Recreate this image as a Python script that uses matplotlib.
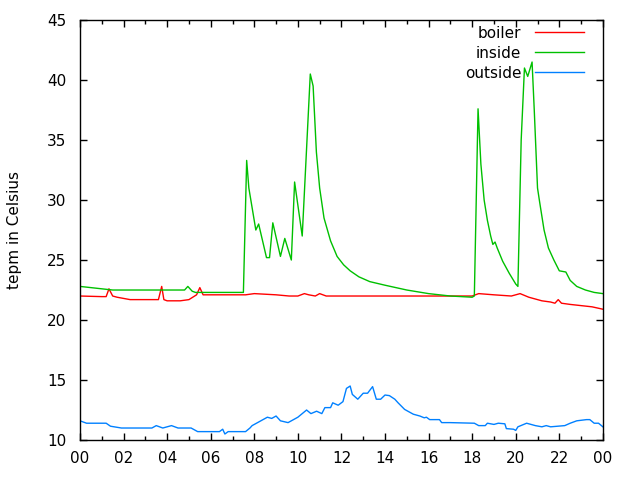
import numpy as np
import matplotlib
matplotlib.use("Agg")
import matplotlib.pyplot as plt
from matplotlib.ticker import MultipleLocator, FuncFormatter

# --- data (hours since midnight, degrees C) ---
boiler_t = [0, 1.0, 1.2, 1.33, 1.5, 1.7, 2.3, 3.6, 3.75, 3.85, 4.0, 4.6, 5.0, 5.35, 5.5, 5.65,
            6.0, 7.0, 7.6, 8.0, 9.0, 9.6, 10.0, 10.3, 10.5, 10.8, 11.0, 11.3, 12.0, 13.0,
            15.0, 17.0, 18.0, 18.3, 19.0, 19.8, 20.2, 20.6, 21.2, 21.6, 21.8, 21.95, 22.1,
            22.5, 23.0, 23.5, 24.0]
boiler = [22.0, 21.95, 21.95, 22.6, 22.0, 21.9, 21.7, 21.7, 22.8, 21.7, 21.6, 21.6, 21.7, 22.1,
          22.7, 22.1, 22.1, 22.1, 22.1, 22.2, 22.1, 22.0, 22.0, 22.2, 22.1, 22.0, 22.2, 22.0,
          22.0, 22.0, 22.0, 22.0, 22.0, 22.2, 22.1, 22.0, 22.2, 21.9, 21.6, 21.5, 21.4, 21.7,
          21.4, 21.3, 21.2, 21.1, 20.9]

inside_t = [0, 1.0, 1.5, 4.5, 4.8, 4.95, 5.15, 5.3, 7.4, 7.5, 7.65, 7.75, 8.07, 8.2, 8.56, 8.7,
            8.85, 9.2, 9.4, 9.7, 9.85, 10.2, 10.57, 10.7, 10.85, 11.0, 11.2, 11.5, 11.8, 12.1,
            12.4, 12.8, 13.3, 14.0, 15.0, 16.0, 17.0, 18.0, 18.1, 18.27, 18.4, 18.55, 18.7,
            18.85, 18.95, 19.05, 19.15, 19.4, 19.7, 20.0, 20.1, 20.25, 20.4, 20.55, 20.75,
            20.85, 21.0, 21.1, 21.3, 21.5, 21.75, 22.0, 22.3, 22.5, 22.8, 23.2, 23.6, 24.0]
inside = [22.8, 22.6, 22.5, 22.5, 22.5, 22.8, 22.4, 22.3, 22.3, 22.3, 33.3, 31.0, 27.5, 28.0,
          25.2, 25.2, 28.1, 25.3, 26.8, 25.0, 31.5, 27.0, 40.5, 39.5, 34.0, 31.0, 28.5, 26.6,
          25.3, 24.6, 24.1, 23.6, 23.2, 22.9, 22.5, 22.2, 22.0, 21.9, 22.0, 37.6, 33.0, 30.0,
          28.3, 27.0, 26.3, 26.5, 26.0, 24.9, 23.9, 23.0, 22.8, 35.0, 41.0, 40.3, 41.5, 37.5,
          31.0, 29.8, 27.5, 26.0, 25.0, 24.1, 24.0, 23.3, 22.8, 22.5, 22.3, 22.2]

outside_t = [0, 0.3, 1.2, 1.4, 1.9, 3.3, 3.5, 3.8, 4.2, 4.5, 5.1, 5.4, 6.4, 6.55, 6.65, 6.8,
             7.6, 7.8, 7.9, 8.6, 8.8, 9.0, 9.2, 9.55, 10.0, 10.4, 10.6, 10.86, 11.1, 11.24,
             11.5, 11.6, 11.85, 12.07, 12.23, 12.4, 12.5, 12.75, 13.0, 13.2, 13.43, 13.6,
             13.8, 14.0, 14.2, 14.45, 14.6, 14.9, 15.3, 15.6, 15.8, 15.9, 16.05, 16.5, 16.6,
             16.98, 18.1, 18.3, 18.6, 18.7, 19.0, 19.2, 19.5, 19.57, 19.9, 20.0, 20.1, 20.5,
             20.7, 20.9, 21.2, 21.4, 21.6, 22.25, 22.5, 22.8, 23.25, 23.4, 23.6, 23.8, 24.0]
outside = [11.6, 11.4, 11.4, 11.15, 11.0, 11.0, 11.2, 11.0, 11.2, 11.0, 11.0, 10.7, 10.7, 10.9,
           10.5, 10.7, 10.7, 11.0, 11.2, 11.9, 11.8, 12.0, 11.6, 11.45, 11.9, 12.5, 12.2,
           12.4, 12.2, 12.7, 12.7, 13.1, 12.9, 13.2, 14.3, 14.5, 13.8, 13.4, 13.9, 13.9,
           14.45, 13.4, 13.4, 13.75, 13.7, 13.4, 13.1, 12.55, 12.15, 12.0, 11.85, 11.9,
           11.7, 11.7, 11.45, 11.45, 11.4, 11.2, 11.2, 11.4, 11.3, 11.4, 11.35, 10.95, 10.9,
           10.8, 11.1, 11.4, 11.3, 11.2, 11.1, 11.2, 11.1, 11.2, 11.4, 11.6, 11.7, 11.7,
           11.4, 11.4, 11.1]

plt.rcParams['font.family'] = ['DejaVu Sans']

fig = plt.figure(figsize=(6.4, 4.8), dpi=100)
ax = fig.add_axes([0.125, 0.0833, 0.817, 0.875])

ax.plot(boiler_t, boiler, color="#ff0000", lw=1.0, label="boiler")
ax.plot(inside_t, inside, color="#00c000", lw=1.0, label="inside")
ax.plot(outside_t, outside, color="#0080ff", lw=1.0, label="outside")

ax.set_xlim(0, 24)
ax.set_ylim(10, 45)
ax.xaxis.set_major_locator(MultipleLocator(2))
ax.xaxis.set_minor_locator(MultipleLocator(1))
ax.xaxis.set_major_formatter(FuncFormatter(lambda v, p: "%02d" % (int(round(v)) % 24)))
ax.yaxis.set_major_locator(MultipleLocator(5))
ax.tick_params(which="both", direction="in", top=True, right=True, labelsize=11, width=1)
ax.tick_params(which="major", length=5)
ax.tick_params(which="minor", length=3)
ax.tick_params(axis="y", pad=10)
ax.tick_params(axis="x", pad=8)
for s in ax.spines.values():
    s.set_linewidth(1.0)

ax.set_ylabel("tepm in Celsius", fontsize=11)
ax.yaxis.set_label_coords(-0.11, 0.5)

ax.legend(loc="upper right", markerfirst=False, frameon=False, fontsize=11,
          handlelength=3.2, handletextpad=0.9, labelspacing=0.32,
          bbox_to_anchor=(0.981, 1.008), borderaxespad=0.2)

fig.savefig("out.png", dpi=100)
